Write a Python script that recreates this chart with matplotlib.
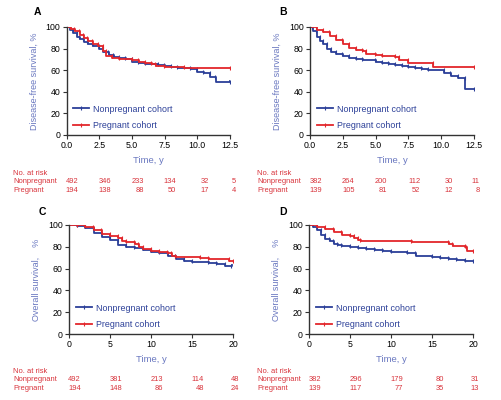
import numpy as np
import matplotlib.pyplot as plt
import matplotlib.transforms as mtransforms
from matplotlib.lines import Line2D

plt.rcParams['font.family'] = ['Liberation Sans', 'DejaVu Sans']

BLUE = '#2b3f98'
RED = '#e3262b'
LAB = '#6a78c0'
RISK = '#d8323a'

# Panel A: disease-free survival, cohort 1
a_np_t = [0, 0.25, 0.5, 0.8, 1.0, 1.3, 1.6, 2.0, 2.5, 2.8, 3.2, 3.6, 4.0, 4.5, 5.0, 5.5, 6.0, 7.0, 7.5, 8.0, 8.5, 9.5, 10.0, 10.5, 11.0, 11.4, 12.5]
a_np_s = [100, 97, 94, 91, 89, 86, 84, 82, 80, 77, 74, 72, 71, 70, 68, 67, 66, 65, 64, 63, 62, 61, 58, 57, 54, 49, 50]
a_p_t = [0, 0.3, 0.6, 1.0, 1.3, 1.6, 2.0, 2.4, 2.8, 3.0, 3.5, 4.0, 5.0, 5.5, 6.0, 6.5, 6.8, 7.5, 9.0, 12.5]
a_p_s = [100, 98, 96, 93, 90, 87, 84, 82, 78, 73, 71, 70, 69, 68, 67, 66, 64, 63, 62, 62]

# Panel B: disease-free survival, cohort 2
b_np_t = [0, 0.2, 0.5, 0.8, 1.0, 1.3, 1.6, 2.0, 2.5, 3.0, 3.5, 4.0, 5.0, 5.5, 6.0, 6.5, 7.0, 7.5, 8.0, 8.5, 9.0, 10.2, 10.7, 11.3, 11.8, 12.5]
b_np_s = [100, 96, 91, 87, 84, 80, 77, 75, 73, 71, 70, 69, 68, 67, 66, 65, 64, 63, 62, 61, 60, 57, 55, 53, 43, 43]
b_p_t = [0, 0.5, 1.0, 1.5, 2.0, 2.5, 3.0, 3.5, 4.0, 4.3, 5.0, 5.5, 6.5, 6.8, 7.5, 9.4, 12.5]
b_p_s = [100, 97, 95, 92, 88, 84, 81, 79, 78, 75, 74, 73, 72, 69, 67, 63, 63]

# Panel C: overall survival, cohort 1
c_np_t = [0, 1, 2, 3, 4, 5, 6, 7, 8, 9, 10, 11, 12, 13, 14, 15, 17, 18, 19, 19.8]
c_np_s = [100, 99, 97, 93, 89, 86, 82, 80, 79, 77, 75, 74, 72, 69, 67, 66, 65, 64, 62, 63]
c_p_t = [0, 1, 2, 3, 4, 5, 6, 6.5, 7, 8, 8.5, 9, 10, 11, 12, 12.5, 13, 16, 17, 19.5, 20]
c_p_s = [100, 100, 98, 95, 92, 90, 88, 85, 84, 83, 80, 78, 76, 75, 74, 72, 71, 70, 69, 67, 67]

# Panel D: overall survival, cohort 2
d_np_t = [0, 0.5, 1, 1.5, 2, 2.5, 3, 3.5, 4, 5, 6, 7, 8, 9, 10, 12, 13, 15, 16, 17, 18, 19, 20]
d_np_s = [100, 98, 95, 91, 87, 85, 83, 82, 81, 80, 79, 78, 77, 76, 75, 74, 72, 71, 70, 69, 68, 67, 67]
d_p_t = [0, 1, 2, 3, 4, 5, 5.5, 6, 6.3, 12.5, 17, 17.5, 19, 19.2, 20]
d_p_s = [100, 98, 96, 94, 91, 90, 88, 86, 85, 84, 83, 81, 80, 76, 76]

# numbers at risk
a_risk_np = [492, 346, 233, 134, 32, 5]
a_risk_p = [194, 138, 88, 50, 17, 4]
b_risk_np = [382, 264, 200, 112, 30, 11]
b_risk_p = [139, 105, 81, 52, 12, 8]
c_risk_np = [492, 381, 213, 114, 48]
c_risk_p = [194, 148, 86, 48, 24]
d_risk_np = [382, 296, 179, 80, 31]
d_risk_p = [139, 117, 77, 35, 13]

ticks_dfs = [0.0, 2.5, 5.0, 7.5, 10.0, 12.5]
ticks_os = [0, 5, 10, 15, 20]

W, H = 502, 400
fig = plt.figure(figsize=(W / 100, H / 100), dpi=100)


def km(ax, t, s, color):
    t = np.asarray(t, float)
    s = np.asarray(s, float)
    ax.step(t, s, where='post', color=color, lw=1.3)
    # censor ticks just before each drop
    ends = t[1:] - 0.03 * t[-1] / 12.5
    ax.plot(ends, s[:-1], '|', color=color, markersize=2.4, mew=0.8)


def panel(rect, letter, let_xy, data, ticks, xmax, fmt, ylabel,
          risk_np, risk_p, risk_y, row_x):
    ax = fig.add_axes(rect)
    km(ax, data[0], data[1], BLUE)
    km(ax, data[2], data[3], RED)
    ax.set_xlim(0, xmax)
    ax.set_ylim(0, 100)
    ax.set_xticks(ticks)
    ax.set_xticklabels([fmt.format(v) for v in ticks])
    ax.set_yticks([0, 20, 40, 60, 80, 100])
    for sp in ['top', 'right']:
        ax.spines[sp].set_visible(False)
    for sp in ['left', 'bottom']:
        ax.spines[sp].set_color('#333333')
        ax.spines[sp].set_linewidth(1.0)
    ax.tick_params(labelsize=6.3, length=3, width=0.8, pad=1.5, colors='#333333',
                   labelcolor='black')
    ax.set_xlabel('Time, y', color=LAB, fontsize=6.8, labelpad=4)
    ax.set_ylabel(ylabel, color=LAB, fontsize=6.5, labelpad=5)
    handles = [Line2D([], [], color=BLUE, lw=1.3, marker='|', markersize=3, mew=0.8),
               Line2D([], [], color=RED, lw=1.3, marker='|', markersize=3, mew=0.8)]
    leg = ax.legend(handles, ['Nonpregnant cohort', 'Pregnant cohort'],
                    loc='lower left', bbox_to_anchor=(0.04, 0.045), frameon=False,
                    fontsize=6.4, handlelength=1.8, handletextpad=0.45,
                    labelspacing=0.85, borderaxespad=0, borderpad=0)
    for txt in leg.get_texts():
        txt.set_color(BLUE)
    fig.text(let_xy[0] / W, 1 - let_xy[1] / H, letter, fontsize=7.5,
             fontweight='bold', ha='center', va='center')
    # risk table
    tr = mtransforms.blended_transform_factory(ax.transData, fig.transFigure)
    step = 0.021
    fs = 5.4
    fig.text(row_x / W, risk_y, 'No. at risk', color=RISK, fontsize=fs)
    fig.text(row_x / W, risk_y - step, 'Nonpregnant', color=RISK, fontsize=fs)
    fig.text(row_x / W, risk_y - 2 * step, 'Pregnant', color=RISK, fontsize=fs)
    for i, x in enumerate(ticks):
        off = 0.072 * xmax if i < len(ticks) - 1 else 0.035 * xmax
        ax.text(x + off, risk_y - step, str(risk_np[i]), transform=tr, ha='right',
                color=RISK, fontsize=fs)
        ax.text(x + off, risk_y - 2 * step, str(risk_p[i]), transform=tr, ha='right',
                color=RISK, fontsize=fs)
    return ax


panel([0.133, 0.6625, 0.325, 0.27], 'A', (37, 12), (a_np_t, a_np_s, a_p_t, a_p_s),
      ticks_dfs, 12.5, '{:.1f}', 'Disease-free survival, %',
      a_risk_np, a_risk_p, 0.563, 13)
panel([0.6175, 0.6625, 0.327, 0.27], 'B', (283, 12), (b_np_t, b_np_s, b_p_t, b_p_s),
      ticks_dfs, 12.5, '{:.1f}', 'Disease-free survival, %',
      b_risk_np, b_risk_p, 0.563, 257)
panel([0.1375, 0.165, 0.327, 0.2725], 'C', (42, 212), (c_np_t, c_np_s, c_p_t, c_p_s),
      ticks_os, 20, '{:d}', 'Overall survival,    %',
      c_risk_np, c_risk_p, 0.068, 13)
panel([0.6155, 0.165, 0.327, 0.2725], 'D', (283, 212), (d_np_t, d_np_s, d_p_t, d_p_s),
      ticks_os, 20, '{:d}', 'Overall survival,    %',
      d_risk_np, d_risk_p, 0.068, 257)

fig.savefig('out.png', dpi=100)
